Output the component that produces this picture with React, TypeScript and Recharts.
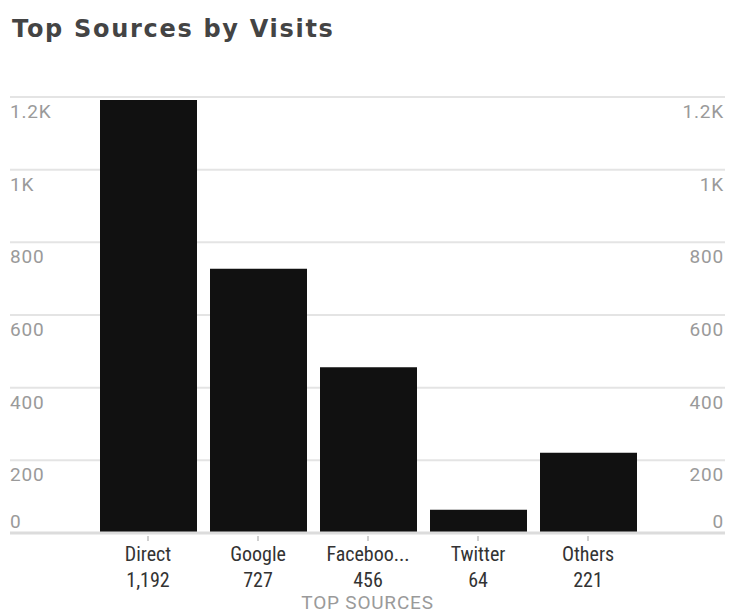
import React from 'react';
import { BarChart, Bar, XAxis, YAxis, CartesianGrid } from 'recharts';

const categories = ['Direct', 'Google', 'Facebook', 'Twitter', 'Others'];
const visits = [1192, 727, 456, 64, 221];
const yTicks = [0, 200, 400, 600, 800, 1000, 1200];
const yTickLabels = ['0', '200', '400', '600', '800', '1K', '1.2K'];

const data = categories.map((name, i) => ({ name, visits: visits[i] }));

const fmtY = (v: number) => yTickLabels[yTicks.indexOf(v)] ?? String(v);
const truncate = (s: string) => (s.length > 7 ? s.slice(0, 7) + '...' : s);

const FONT = 'Roboto, "Liberation Sans", sans-serif';
const NARROW = '"Liberation Sans Narrow", "Roboto Condensed", Roboto, sans-serif';

const YTick = (props: any) => {
  const { y, payload } = props;
  const dy = payload.value === 0 ? -5 : 21;
  const label = fmtY(payload.value);
  return (
    <g>
      <text x={10} y={y + dy} textAnchor="start" fill="#9a9a9a" fontSize={19} letterSpacing={0.8} fontFamily={FONT}>
        {label}
      </text>
      <text x={724} y={y + dy} textAnchor="end" fill="#9a9a9a" fontSize={19} letterSpacing={0.8} fontFamily={FONT}>
        {label}
      </text>
    </g>
  );
};

const XTick = (props: any) => {
  const { x, payload, index } = props;
  const v = visits[index];
  const base = 533;
  return (
    <g>
      <line x1={x} x2={x} y1={base + 3} y2={base + 8} stroke="#d0d0d0" strokeWidth={2} />
      <text x={x} y={base + 28} textAnchor="middle" fill="#333" fontSize={20} fontFamily={NARROW}>
        {truncate(payload.value)}
      </text>
      <text x={x} y={base + 54} textAnchor="middle" fill="#333" fontSize={20} fontFamily={NARROW}>
        {v.toLocaleString('en-US')}
      </text>
    </g>
  );
};

const XAxisTitle = (props: any) => {
  const { viewBox } = props;
  const cx = viewBox.x + viewBox.width / 2;
  return (
    <text x={cx} y={609} textAnchor="middle" fill="#9a9a9a" fontSize={19} letterSpacing={0.8} fontFamily={FONT}>
      TOP SOURCES
    </text>
  );
};

export default function App() {
  return (
    <div style={{ position: 'absolute', left: 0, top: 0, width: 729, height: 615, background: '#fff' }}>
      <div
        style={{
          position: 'absolute',
          left: 12,
          top: 15,
          fontFamily: '"DejaVu Sans", sans-serif',
          fontWeight: 700,
          fontSize: 24,
          letterSpacing: 1.7,
          lineHeight: '28px',
          color: '#444',
          whiteSpace: 'nowrap',
        }}
      >
        Top Sources by Visits
      </div>
      <BarChart
        width={729}
        height={615}
        data={data}
        margin={{ top: 97, right: 4, left: 9, bottom: 0 }}
        barSize={97}
      >
        <CartesianGrid yAxisId="left" vertical={false} stroke="#e4e4e4" strokeWidth={2} />
        <XAxis
          dataKey="name"
          height={82}
          padding={{ left: 83, right: 82 }}
          axisLine={{ stroke: '#dcdcdc', strokeWidth: 3 }}
          tickLine={false}
          tick={<XTick />}
          interval={0}
          label={<XAxisTitle />}
        />
        <YAxis
          yAxisId="left"
          orientation="left"
          width={1}
          domain={[0, 1200]}
          ticks={yTicks}
          axisLine={false}
          tickLine={false}
          tick={<YTick />}
        />
        <Bar yAxisId="left" dataKey="visits" fill="#111" isAnimationActive={false} />
      </BarChart>
    </div>
  );
}
